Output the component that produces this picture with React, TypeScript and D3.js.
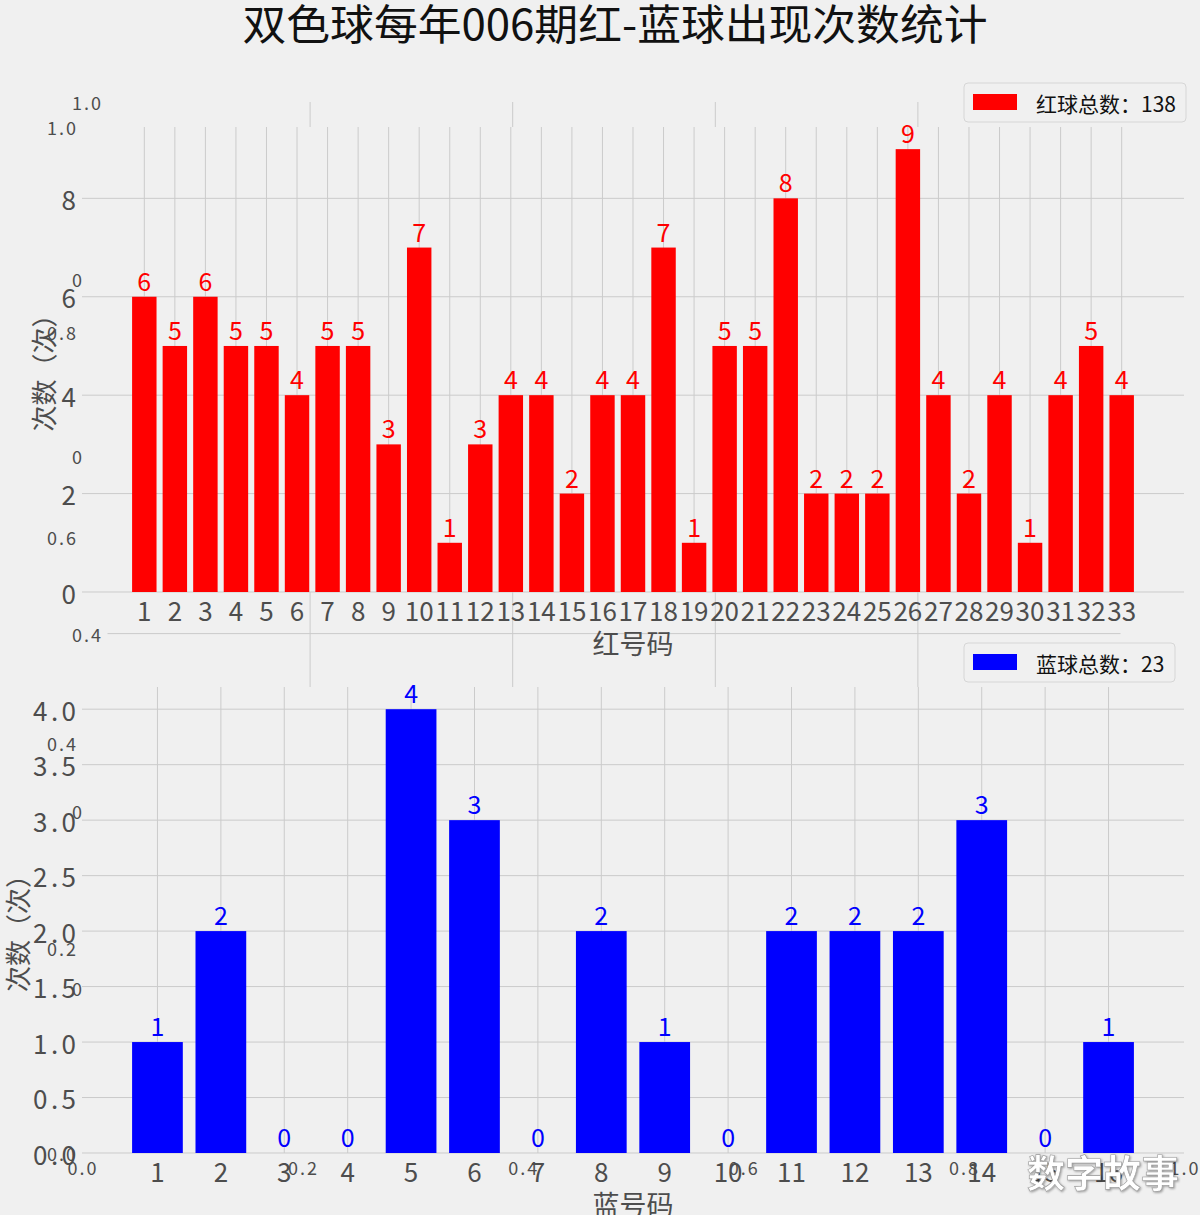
import React from 'react';
import * as d3 from 'd3';

const redBalls = [1, 2, 3, 4, 5, 6, 7, 8, 9, 10, 11, 12, 13, 14, 15, 16, 17, 18, 19, 20, 21, 22, 23, 24, 25, 26, 27, 28, 29, 30, 31, 32, 33];
const redCounts = [6, 5, 6, 5, 5, 4, 5, 5, 3, 7, 1, 3, 4, 4, 2, 4, 4, 7, 1, 5, 5, 8, 2, 2, 2, 9, 4, 2, 4, 1, 4, 5, 4];
const blueBalls = [1, 2, 3, 4, 5, 6, 7, 8, 9, 10, 11, 12, 13, 14, 15, 16];
const blueCounts = [1, 2, 0, 0, 4, 3, 0, 2, 1, 0, 2, 2, 2, 3, 0, 1];
const redTicks = [0, 2, 4, 6, 8];
const blueTicks = [0, 0.5, 1, 1.5, 2, 2.5, 3, 3.5, 4];
const ghostTicks = [0, 0.2, 0.4, 0.6, 0.8, 1.0];

const TITLE = '双色球每年006期红-蓝球出现次数统计';
const FONT = '"Noto Sans CJK SC", "Noto Sans", sans-serif';
const BG = '#f0f0f0';
const GRID = '#cbcbcb';
const TICK = '#4d4d4d';

type PanelProps = {
  balls: number[];
  counts: number[];
  ticks: number[];
  top: number;
  bottom: number;
  color: string;
  tickFmt: (v: number) => string;
  tickLen?: number;
  xLabel: string;
  yLabelX: number;
  legendText: string;
};

const LEFT = 82;
const RIGHT = 1184;
const BAR_W = 0.8;

function Panel({ balls, counts, ticks, top, bottom, color, tickFmt, tickLen, xLabel, yLabelX, legendText }: PanelProps) {
  // matplotlib style auto limits: 5% margins around the bars
  const lo = balls[0] - BAR_W / 2;
  const hi = balls[balls.length - 1] + BAR_W / 2;
  const pad = (hi - lo) * 0.05;
  const x = d3.scaleLinear().domain([lo - pad, hi + pad]).range([LEFT, RIGHT]);
  const maxV = d3.max(counts) ?? 1;
  const y = d3.scaleLinear().domain([0, maxV * 1.05]).range([bottom, top]);
  const bw = x(BAR_W) - x(0);

  return (
    <g>
      <rect x={LEFT} y={top} width={RIGHT - LEFT} height={bottom - top} fill={BG} />
      {ticks.map((t) => (
        <line key={'h' + t} x1={LEFT} x2={RIGHT} y1={y(t)} y2={y(t)} stroke={GRID} strokeWidth={1} />
      ))}
      {balls.map((b) => (
        <line key={'v' + b} x1={x(b)} x2={x(b)} y1={top} y2={bottom} stroke={GRID} strokeWidth={1} />
      ))}
      {balls.map((b, i) => (
        <rect key={'b' + b} x={x(b) - bw / 2} y={y(counts[i])} width={bw} height={bottom - y(counts[i])} fill={color} />
      ))}
      {balls.map((b, i) => (
        <text key={'l' + b} x={x(b)} y={y(counts[i]) - 6} textAnchor="middle" fontSize={25} fill={color}>
          {counts[i]}
        </text>
      ))}
      {ticks.map((t) => (
        <text
          key={'yt' + t}
          x={76}
          y={y(t)}
          textAnchor="end"
          dominantBaseline="central"
          fontSize={26}
          fill={TICK}
          textLength={tickLen}
          lengthAdjust="spacing"
        >
          {tickFmt(t)}
        </text>
      ))}
      {balls.map((b) => (
        <text key={'xt' + b} x={x(b)} y={bottom + 17} textAnchor="middle" dominantBaseline="central" fontSize={26} fill={TICK}>
          {b}
        </text>
      ))}
      <text x={(LEFT + RIGHT) / 2} y={bottom + 50} textAnchor="middle" dominantBaseline="central" fontSize={27} fill={TICK}>
        {xLabel}
      </text>
      <text
        transform={`translate(${yLabelX},${(top + bottom) / 2 + 7}) rotate(-90)`}
        textAnchor="middle"
        dominantBaseline="central"
        fontSize={26}
        fill={TICK}
      >
        次数（次）
      </text>
      <g transform={`translate(964,${top - 44})`}>
        <rect x={0} y={0} width={legendText.length > 7 ? 222 : 211} height={39} rx={4} fill={BG} stroke="#d6d6d6" />
        <rect x={9} y={11} width={44} height={16} fill={color} />
        <text x={72} y={20} dominantBaseline="central" fontSize={21} fill="#111">
          {legendText}
        </text>
      </g>
    </g>
  );
}

export default function App() {
  const W = 1200;
  const H = 1215;

  // stray empty axes that sit behind the two subplots
  const gAx = d3.scaleLinear().domain([0, 1]).range([107.5, 1120.5]);
  const gAy = d3.scaleLinear().domain([0, 1]).range([988, 102]);
  const gBx = d3.scaleLinear().domain([0, 1]).range([82, 1184]);
  const gBy = d3.scaleLinear().domain([0, 1]).range([1153, 127]);
  const f1 = d3.format('.1f');
  const inner = ghostTicks.filter((t) => t > 0 && t < 1);

  return (
    <div>
      <style>{'body{margin:0}'}</style>
      <svg width={W} height={H} style={{ display: 'block', fontFamily: FONT }}>
        <rect width={W} height={H} fill={BG} />

        {/* ghost axes B: labels only */}
        {ghostTicks.map((t) => (
          <text key={'by' + t} x={76} y={gBy(t)} textAnchor="end" dominantBaseline="central" fontSize={18} fill={TICK} textLength={29} lengthAdjust="spacing">
            {f1(t)}
          </text>
        ))}
        {ghostTicks.map((t) => (
          <text key={'bx' + t} x={gBx(t)} y={1167} textAnchor="middle" dominantBaseline="central" fontSize={18} fill={TICK} textLength={29} lengthAdjust="spacing">
            {f1(t)}
          </text>
        ))}

        {/* ghost axes A */}
        {inner.map((t) => (
          <line key={'ah' + t} x1={gAx(0)} x2={gAx(1)} y1={gAy(t)} y2={gAy(t)} stroke={GRID} strokeWidth={1} />
        ))}
        {inner.map((t) => (
          <line key={'av' + t} x1={gAx(t)} x2={gAx(t)} y1={gAy(1)} y2={gAy(0)} stroke={GRID} strokeWidth={1} />
        ))}
        {ghostTicks.map((t) => (
          <text key={'ay' + t} x={101} y={gAy(t)} textAnchor="end" dominantBaseline="central" fontSize={18} fill={TICK} textLength={29} lengthAdjust="spacing">
            {f1(t)}
          </text>
        ))}

        <Panel
          balls={redBalls}
          counts={redCounts}
          ticks={redTicks}
          top={127}
          bottom={592}
          color="#ff0000"
          tickFmt={(v) => String(v)}
          xLabel="红号码"
          yLabelX={42}
          legendText={'红球总数：' + d3.sum(redCounts)}
        />
        <Panel
          balls={blueBalls}
          counts={blueCounts}
          ticks={blueTicks}
          top={687}
          bottom={1153}
          color="#0000ff"
          tickFmt={f1}
          tickLen={43}
          xLabel="蓝号码"
          yLabelX={16}
          legendText={'蓝球总数：' + d3.sum(blueCounts)}
        />

        <text x={615} y={21} textAnchor="middle" dominantBaseline="central" fontSize={42} textLength={745} lengthAdjust="spacingAndGlyphs" fill="#111">
          {TITLE}
        </text>

        <text x={1103} y={1170} textAnchor="middle" dominantBaseline="central" fontSize={38} fontWeight="bold" fill="#fff" stroke="#999" strokeWidth={0.6} style={{ filter: 'drop-shadow(1px 1px 1px rgba(0,0,0,0.35))' }}>
          数字故事
        </text>
      </svg>
    </div>
  );
}
